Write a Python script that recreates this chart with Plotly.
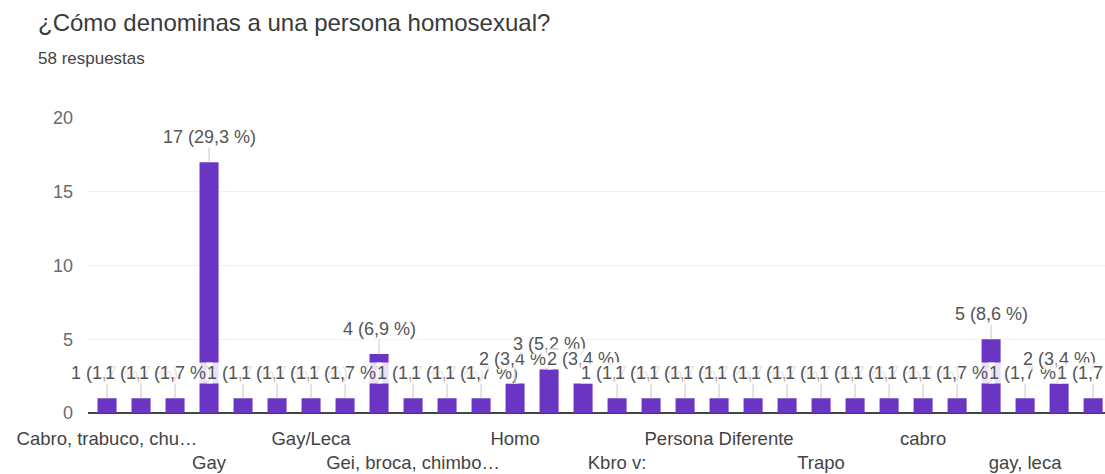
import plotly.graph_objects as go

# Survey answers: one bar per distinct response (58 responses in total)
positions = list(range(30))
counts = [1, 1, 1, 17, 1, 1, 1, 1, 4, 1, 1, 1, 2, 3, 2,
          1, 1, 1, 1, 1, 1, 1, 1, 1, 1, 1, 5, 1, 2, 1]
total = 58

# Only every third category name is printed on the axis
tick_positions = [0, 3, 6, 9, 12, 15, 18, 21, 24, 27]
tick_names = ["Cabro, trabuco, chu…", "Gay", "Gay/Leca", "Gei, broca, chimbo…",
              "Homo", "Kbro v:", "Persona Diferente", "Trapo", "cabro", "gay, leca"]

title_text = "¿Cómo denominas a una persona homosexual?"
subtitle_text = "58 respuestas"

BAR = "#6a35c2"
FONT = "Liberation Sans, Arial, sans-serif"

W, H = 1105, 474
L, R, T, B = 88, 0, 118, 61
PW, PH = W - L - R, H - T - B

# alternate tick labels between two rows
ticktext = [name if i % 2 == 0 else "<br>" + name for i, name in enumerate(tick_names)]

fig = go.Figure(go.Bar(
    x=positions, y=counts,
    marker=dict(color=BAR, line=dict(width=0)),
    hoverinfo="skip",
))

# value labels with a short stem above each bar
for x, c in zip(positions, counts):
    pct = f"{c / total * 100:.1f}".replace(".", ",")
    fig.add_annotation(
        x=x, y=c, xref="x", yref="y",
        text=f"{c} ({pct} %)",
        showarrow=True, arrowhead=0, arrowwidth=1, arrowcolor="#c8c8c8",
        ax=0, ay=-25, standoff=0,
        bgcolor="rgba(255,255,255,0.85)", borderpad=0,
        font=dict(family=FONT, size=18, color="#555555"),
    )

# headline and response count in the top margin
fig.add_annotation(
    text=title_text, xref="paper", yref="paper",
    x=(36 - L) / PW, y=(H - B - 23) / PH,
    xanchor="left", yanchor="middle", showarrow=False,
    font=dict(family=FONT, size=24, color="#3a3a3a"),
)
fig.add_annotation(
    text=subtitle_text, xref="paper", yref="paper",
    x=(36 - L) / PW, y=(H - B - 58) / PH,
    xanchor="left", yanchor="middle", showarrow=False,
    font=dict(family=FONT, size=17, color="#444444"),
)

fig.update_layout(
    width=W, height=H,
    margin=dict(l=L, r=R, t=T, b=B),
    paper_bgcolor="white", plot_bgcolor="white",
    showlegend=False, bargap=0.44,
)

fig.update_xaxes(
    range=[-0.56, 29.35], tickmode="array",
    tickvals=tick_positions, ticktext=ticktext, tickangle=0,
    tickfont=dict(family=FONT, size=18.5, color="#444444"),
    showgrid=False, zeroline=False, ticks="", automargin=False,
    ticklabelstandoff=12,
)
fig.update_yaxes(
    range=[0, 20], tickvals=[0, 5, 10, 15, 20],
    tickfont=dict(family=FONT, size=18, color="#6b6b6b"),
    showgrid=True, gridcolor="#f0f0f0", gridwidth=1,
    zeroline=True, zerolinecolor="#444444", zerolinewidth=2,
    ticks="", automargin=False, ticklabelstandoff=14,
)

fig.write_html("out.html")
